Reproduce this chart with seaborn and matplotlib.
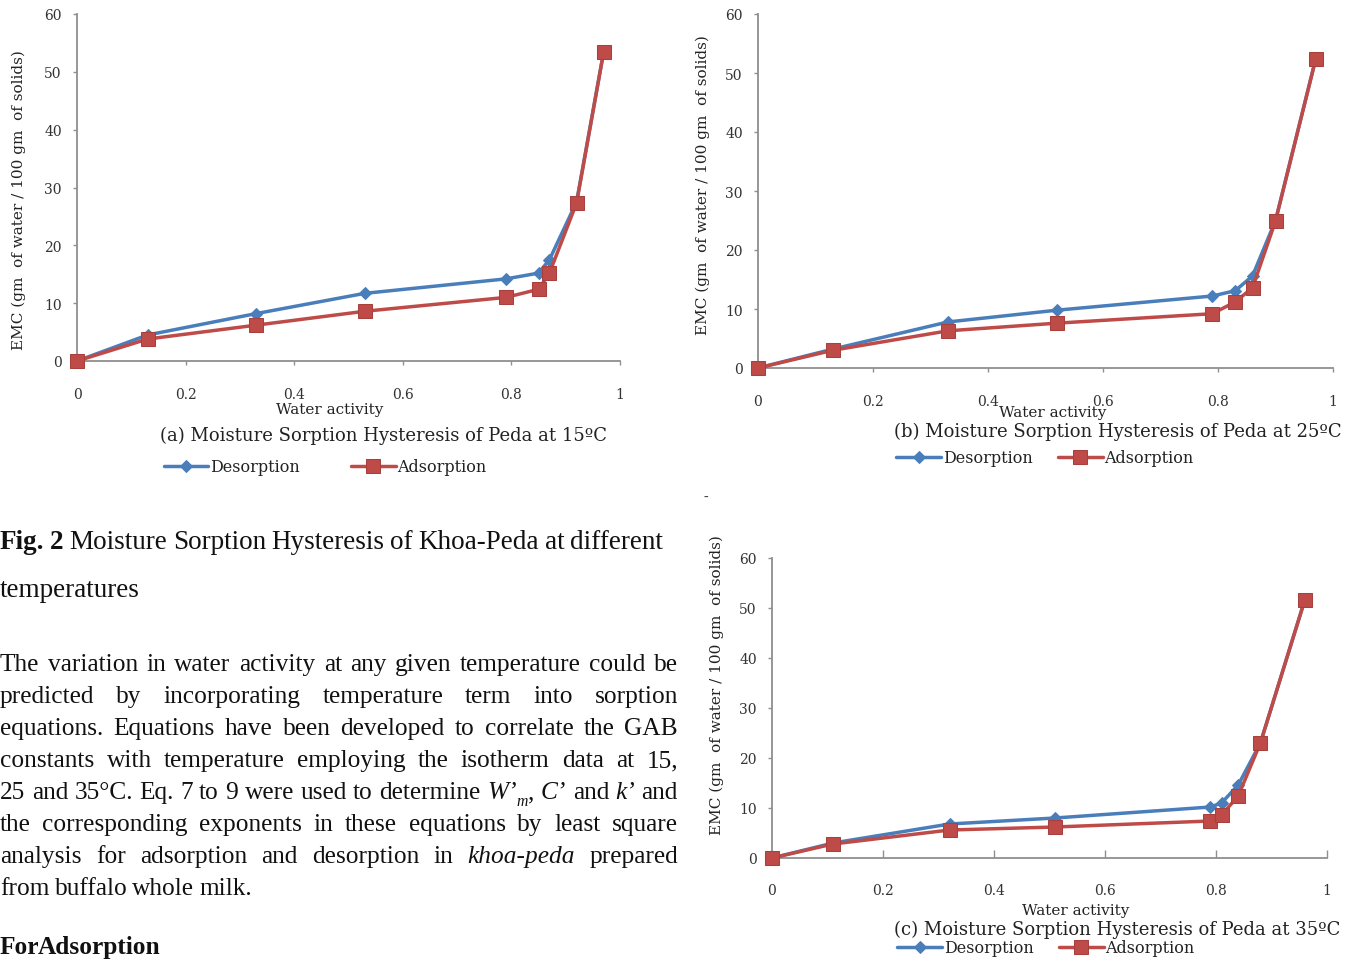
import matplotlib
matplotlib.use("Agg")
import matplotlib.pyplot as plt
import pandas as pd
import seaborn as sns

# ---- data: equilibrium moisture content vs water activity ----
series_names = ["Desorption", "Adsorption"]

water_activity_15 = [0, 0.13, 0.33, 0.53, 0.79, 0.85, 0.87, 0.92, 0.97]
desorption_15 = [0, 4.5, 8.2, 11.7, 14.2, 15.2, 17.5, 27.5, 53.5]
adsorption_15 = [0, 3.8, 6.2, 8.6, 11.0, 12.4, 15.2, 27.3, 53.5]

water_activity_25 = [0, 0.13, 0.33, 0.52, 0.79, 0.83, 0.86, 0.90, 0.97]
desorption_25 = [0, 3.2, 7.8, 9.8, 12.2, 13.1, 15.6, 25.0, 52.4]
adsorption_25 = [0, 3.0, 6.3, 7.6, 9.2, 11.2, 13.6, 24.9, 52.4]

water_activity_35 = [0, 0.11, 0.32, 0.51, 0.79, 0.81, 0.84, 0.88, 0.96]
desorption_35 = [0, 3.0, 6.8, 8.0, 10.2, 11.0, 14.6, 23.0, 51.6]
adsorption_35 = [0, 2.8, 5.6, 6.2, 7.4, 8.6, 12.4, 23.0, 51.6]

panel_titles = [
    "(a) Moisture Sorption Hysteresis of Peda at 15ºC",
    "(b) Moisture Sorption Hysteresis of Peda at 25ºC",
    "(c) Moisture Sorption Hysteresis of Peda at 35ºC",
]
x_axis_titles = ["Water activity", "Water activity", "Water activity"]
y_axis_title = "EMC (gm  of water / 100 gm  of solids)"
x_ticks = [0, 0.2, 0.4, 0.6, 0.8, 1]
x_tick_labels = ["0", "0.2", "0.4", "0.6", "0.8", "1"]
y_ticks = [0, 10, 20, 30, 40, 50, 60]

sns.set_theme(style="white")
plt.rcParams["font.family"] = ["DejaVu Serif"]

W, H = 1348, 962
fig = plt.figure(figsize=(W / 100, H / 100), dpi=100)
fig.patch.set_facecolor("white")

BLUE = "#4A7EBB"
RED = "#BE4B48"
SPINE = "#8F8F8F"
CHART_FONT = "DejaVu Serif"


def px_rect(left, top, right, bottom):
    return [left / W, 1 - bottom / H, (right - left) / W, (bottom - top) / H]


panels = [
    dict(rect=px_rect(77, 15, 620, 362), x=water_activity_15,
         d=desorption_15, a=adsorption_15, tickdir="out",
         xlab=((330 - 77) / 543, -(410 - 362) / 347),
         ylab=((19 - 77) / 543, (362 - 200) / 347),
         title=(384, 436), legend=(325, 468), colsp=3.2),
    dict(rect=px_rect(758, 15, 1333, 369), x=water_activity_25,
         d=desorption_25, a=adsorption_25, tickdir="out",
         xlab=((1053 - 758) / 575, -(413 - 369) / 354),
         ylab=((703 - 758) / 575, (369 - 185) / 354),
         title=(1118, 432), legend=(1045, 459), colsp=1.6),
    dict(rect=px_rect(772, 559, 1327, 859), x=water_activity_35,
         d=desorption_35, a=adsorption_35, tickdir="in",
         xlab=((1076 - 772) / 555, -(911 - 859) / 300),
         ylab=((717 - 772) / 555, (859 - 685) / 300),
         title=(1117, 930), legend=(1046, 949), colsp=1.6),
]

for i, p in enumerate(panels):
    ax = fig.add_axes(p["rect"])
    df = pd.DataFrame({
        "aw": list(p["x"]) * 2,
        "emc": list(p["d"]) + list(p["a"]),
        "series": [series_names[0]] * len(p["x"]) + [series_names[1]] * len(p["x"]),
    })
    sns.lineplot(data=df[df["series"] == "Desorption"], x="aw", y="emc", ax=ax,
                 color=BLUE, lw=2.5, marker="D", markersize=6.5,
                 markeredgecolor=BLUE, label="Desorption", sort=False,
                 clip_on=False, zorder=3)
    sns.lineplot(data=df[df["series"] == "Adsorption"], x="aw", y="emc", ax=ax,
                 color=RED, lw=2.5, marker="s", markersize=9.5,
                 markeredgecolor="#A8403D", label="Adsorption", sort=False,
                 clip_on=False, zorder=4)
    ax.set_xlim(0, 1)
    ax.set_ylim(0, 60)
    ax.set_xticks(x_ticks)
    ax.set_xticklabels(x_tick_labels)
    ax.set_yticks(y_ticks)
    for s in ["top", "right"]:
        ax.spines[s].set_visible(False)
    for s in ["left", "bottom"]:
        ax.spines[s].set_color(SPINE)
        ax.spines[s].set_linewidth(1.3)
    if p["tickdir"] == "out":
        ax.tick_params(axis="x", direction="out", length=3, width=1, color=SPINE,
                       pad=16, labelsize=10, labelcolor="#333333", bottom=True)
    else:
        ax.tick_params(axis="x", direction="in", length=6, width=1, color=SPINE,
                       pad=18, labelsize=10, labelcolor="#333333", bottom=True)
    ax.tick_params(axis="y", direction="out", length=3, width=1, color=SPINE,
                   pad=8, labelsize=10, labelcolor="#333333", left=True)
    for lab in ax.get_xticklabels() + ax.get_yticklabels():
        lab.set_fontfamily(CHART_FONT)
    ax.set_xlabel(x_axis_titles[i], fontsize=11, fontfamily=CHART_FONT,
                  color="#222222", va="center")
    ax.xaxis.set_label_coords(*p["xlab"])
    ax.set_ylabel(y_axis_title, fontsize=11, fontfamily=CHART_FONT,
                  color="#222222", va="center")
    ax.yaxis.set_label_coords(*p["ylab"])
    ax.grid(False)
    ax.set_facecolor("white")

    tx, ty = p["title"]
    fig.text(tx / W, 1 - ty / H, panel_titles[i], ha="center", va="center",
             fontsize=13, fontfamily=CHART_FONT, color="#222222")
    lx, ly = p["legend"]
    ax.legend(loc="center", bbox_to_anchor=(lx / W, 1 - ly / H),
              bbox_transform=fig.transFigure, ncol=2, frameon=False,
              prop={"family": CHART_FONT, "size": 11.5},
              handlelength=2.8, handletextpad=0.1, columnspacing=p["colsp"],
              labelcolor="#222222")

# ---- body text beside the lower chart ----
TEXT_FONT = "Liberation Serif"
renderer = fig.canvas.get_renderer()


def seg_width(text, size, style="normal", weight="normal"):
    t = fig.text(0, 0, text, fontsize=size, fontfamily=TEXT_FONT,
                 style=style, weight=weight)
    w = t.get_window_extent(renderer).width
    t.remove()
    return w


def draw_line(words, y_base, size, x0=0, x1=None):
    """words: list of words, each a list of (text, opts) segments."""
    widths = []
    for word in words:
        ww = 0
        for txt, o in word:
            ww += seg_width(txt, size * o.get("scale", 1), o.get("style", "normal"),
                            o.get("weight", "normal"))
        widths.append(ww)
    if x1 is None:
        gap = (seg_width("a a", size) - seg_width("aa", size)) * 0.8
    else:
        gap = (x1 - x0 - sum(widths)) / max(len(words) - 1, 1)
    x = x0
    for word, ww in zip(words, widths):
        xs = x
        for txt, o in word:
            s = size * o.get("scale", 1)
            fig.text(xs / W, 1 - (y_base + o.get("dy", 0)) / H, txt, fontsize=s,
                     fontfamily=TEXT_FONT, style=o.get("style", "normal"),
                     weight=o.get("weight", "normal"), va="baseline", ha="left",
                     color="#111111")
            xs += seg_width(txt, s, o.get("style", "normal"), o.get("weight", "normal"))
        x += ww + gap


def plain(s, **o):
    return [[(w, o)] for w in s.split()]


SIZE = 18.3
CAP_SIZE = 19.5
caption = [[("Fig.", {"weight": "bold"})], [("2", {"weight": "bold"})]] + \
    plain("Moisture Sorption Hysteresis of Khoa-Peda at different")
draw_line(caption, 549, CAP_SIZE, 0, 663)
draw_line(plain("temperatures"), 597, CAP_SIZE)

it = {"style": "italic"}
para = [
    (plain("The variation in water activity at any given temperature could be"), True),
    (plain("predicted by incorporating temperature term into sorption"), True),
    (plain("equations. Equations have been developed to correlate the GAB"), True),
    (plain("constants with temperature employing the isotherm data at 15,"), True),
    (plain("25 and 35°C. Eq. 7 to 9 were used to determine")
     + [[("W’", it), ("m", {"style": "italic", "scale": 0.62, "dy": 7}), (",", {})],
        [("C’", it)], [("and", {})], [("k’", it)], [("and", {})]], True),
    (plain("the corresponding exponents in these equations by least square"), True),
    (plain("analysis for adsorption and desorption in") + [[("khoa-peda", it)]]
     + plain("prepared"), True),
    (plain("from buffalo whole milk."), False),
]
y0 = 671
for k, (words, just) in enumerate(para):
    draw_line(words, y0 + 32 * k, SIZE, 0, 678 if just else None)

draw_line([[("For", {"weight": "bold"})], [("Adsorption", {"weight": "bold"})]],
          954, SIZE, 0, 160)

fig.text(706 / W, 1 - 497 / H, "-", fontsize=10, color="#444444",
         ha="center", va="center", fontfamily=TEXT_FONT)

fig.savefig("out.png", dpi=100, facecolor="white")
